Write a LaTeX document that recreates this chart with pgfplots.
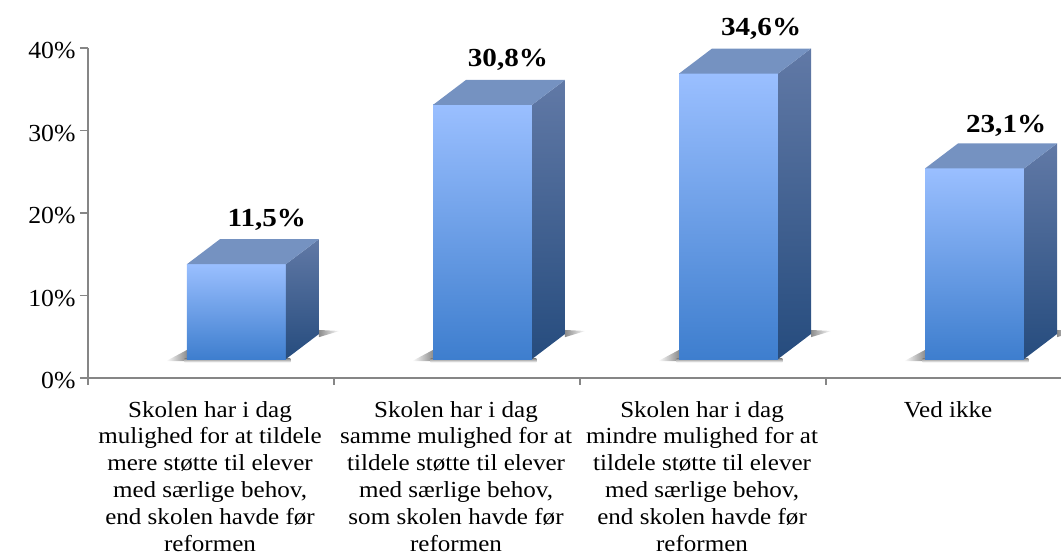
\documentclass[border=0pt]{standalone}
\usepackage{pgfplots}
\pgfplotsset{compat=1.18}
\usepackage{fontspec}
\setmainfont{Liberation Serif}
\newfontfamily\lblfont[FakeStretch=1.09]{Liberation Serif}
\newfontfamily\tickfont[FakeStretch=1.05]{Liberation Serif}
\newfontfamily\valfont[FakeStretch=1.12]{Liberation Serif}
\definecolor{axc}{HTML}{868686}
\definecolor{ftop}{HTML}{9ABFFF}
\definecolor{fbot}{HTML}{3E7ECE}
\definecolor{stop}{HTML}{6179A6}
\definecolor{sbot}{HTML}{264C7E}
\definecolor{ttop}{HTML}{7592C1}
\definecolor{shd}{HTML}{8C8C8C}
% one bar: #1 left edge of the front, #2 value
\newcommand{\threeDbar}[2]{%
  \addplot[draw=none,left color=white,right color=shd] coordinates {({#1-0.085},2.05) ({#1},3.4) ({#1},2.05)} --cycle;
  \addplot[draw=none,top color=shd,bottom color=white] coordinates {({#1-0.01},2.35) ({#1+0.42},2.35) ({#1+0.42},1.9) ({#1-0.01},1.9)} --cycle;
  \addplot[draw=none,left color=shd,right color=white] coordinates {({#1+0.5364},5.82) ({#1+0.62},5.7) ({#1+0.5364},4.95)} --cycle;
  \addplot[draw=none,top color=ftop,bottom color=fbot] coordinates {({#1},2.3) ({#1+0.4024},2.3) ({#1+0.4024},{#2+2.3}) ({#1},{#2+2.3})} --cycle;
  \addplot[draw=none,top color=stop,bottom color=sbot] coordinates {({#1+0.4024},2.3) ({#1+0.5364},5.33) ({#1+0.5364},{#2+5.33}) ({#1+0.4024},{#2+2.3})} --cycle;
  \addplot[draw=none,fill=ttop] coordinates {({#1},{#2+2.3}) ({#1+0.4024},{#2+2.3}) ({#1+0.5364},{#2+5.33}) ({#1+0.134},{#2+5.33})} --cycle;
}
\begin{document}
\begin{tikzpicture}[x=1pt,y=1pt]
\path[use as bounding box] (-88pt,-178pt) rectangle (973pt,378pt);
\begin{axis}[
  at={(0pt,0pt)},anchor=origin,
  scale only axis,width=973pt,height=330pt,
  xmin=0,xmax=3.955,ymin=0,ymax=40,
  clip=false,
  axis x line*=bottom,axis y line*=left,
  axis line style={draw=axc,line width=1.3pt,-},
  tick style={draw=axc,line width=1.2pt},
  xtick={0.496,1.496,2.496,3.496},
  xticklabels={{Skolen har i dag\\mulighed for at tildele\\mere støtte til elever\\med særlige behov,\\end skolen havde før\\reformen},
    {Skolen har i dag\\samme mulighed for at\\tildele støtte til elever\\med særlige behov,\\som skolen havde før\\reformen},
    {Skolen har i dag\\mindre mulighed for at\\tildele støtte til elever\\med særlige behov,\\end skolen havde før\\reformen},
    {Ved ikke}},
  major x tick style={draw=none},
  minor xtick={0,1,2,3},
  minor tick length=7pt,
  tickwidth=8pt,
  ytick={0,10,20,30,40},
  yticklabels={0\%,10\%,20\%,30\%,40\%},
  yticklabel style={font=\tickfont\fontsize{24.5}{26}\selectfont,xshift=-1pt,yshift=-3pt},
  xticklabel style={font=\lblfont\fontsize{23}{26.8}\selectfont,align=center,anchor=north,yshift=-15pt,inner sep=0pt},
  tick align=outside,
]
\threeDbar{0.4024}{11.5}
\threeDbar{1.4024}{30.8}
\threeDbar{2.4024}{34.6}
\threeDbar{3.4024}{23.1}
\node[font=\valfont\fontsize{26}{28}\selectfont\bfseries] at (axis cs:0.727,19.2) {11,5\%};
\node[font=\valfont\fontsize{26}{28}\selectfont\bfseries] at (axis cs:1.707,38.6) {30,8\%};
\node[font=\valfont\fontsize{26}{28}\selectfont\bfseries] at (axis cs:2.736,42.3) {34,6\%};
\node[font=\valfont\fontsize{26}{28}\selectfont\bfseries] at (axis cs:3.732,30.6) {23,1\%};
\end{axis}
\end{tikzpicture}
\end{document}
